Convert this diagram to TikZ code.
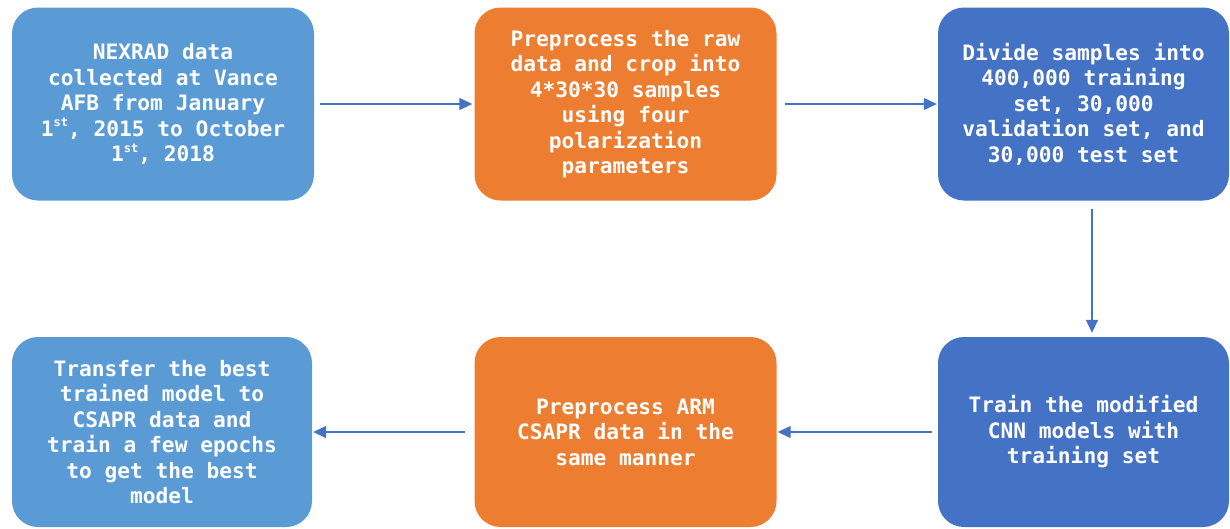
\documentclass[tikz,border=0pt]{standalone}
\usepackage{fontspec}
\setmonofont{DejaVu Sans Mono}
\usetikzlibrary{arrows.meta}
\definecolor{lblue}{HTML}{5B9BD5}
\definecolor{dblue}{HTML}{4472C4}
\definecolor{orng}{HTML}{ED7D31}
\definecolor{arrc}{HTML}{4472C4}
\tikzset{
  box/.style={rectangle, rounded corners=26pt, draw=none, inner sep=0pt,
    text=white, align=center, font=\ttfamily\bfseries\fontsize{21.2}{25.5}\selectfont},
  arr/.style={draw=arrc, line width=1.3pt, -{Triangle[length=13pt,width=12pt]}},
}
\newcommand{\sps}[1]{\raisebox{0.45em}{\fontsize{12}{12}\selectfont #1}}
\begin{document}
\begin{tikzpicture}[x=1pt,y=-1pt]
\useasboundingbox (0,0) rectangle (1230,528);
\node[box, fill=lblue, minimum width=302pt, minimum height=193pt] (n1) at (163,104)
  {NEXRAD data\\collected at Vance\\AFB from January\\1\sps{st}, 2015 to October\\1\sps{st}, 2018};
\node[box, fill=orng, minimum width=302pt, minimum height=193pt] (n2) at (625.5,104)
  {Preprocess the raw\\data and crop into\\4*30*30 samples\\using four\\polarization\\parameters};
\node[box, fill=dblue, minimum width=291pt, minimum height=193pt] (n3) at (1083.5,104)
  {Divide samples into\\400,000 training\\set, 30,000\\validation set, and\\30,000 test set};
\node[box, fill=dblue, minimum width=291pt, minimum height=190pt] (n4) at (1083.5,432)
  {Train the modified\\CNN models with\\training set};
\node[box, fill=orng, minimum width=302pt, minimum height=190pt] (n5) at (625.5,432)
  {Preprocess ARM\\CSAPR data in the\\same manner};
\node[box, fill=lblue, minimum width=300pt, minimum height=190pt] (n6) at (162,432)
  {Transfer the best\\trained model to\\CSAPR data and\\train a few epochs\\to get the best\\model};
\draw[arr, shorten <=6pt, shorten >=2pt] (n1.east) -- (n2.west);
\draw[arr, shorten <=8pt, shorten >=1pt] (n2.east) -- (n3.west);
\draw[arr, shorten <=8pt, shorten >=4pt] ([xshift=8.5pt]n3.south) -- ([xshift=8.5pt]n4.north);
\draw[arr, shorten <=6pt, shorten >=1pt] (n4.west) -- (n5.east);
\draw[arr, shorten <=9pt, shorten >=1pt] (n5.west) -- (n6.east);
\end{tikzpicture}
\end{document}
